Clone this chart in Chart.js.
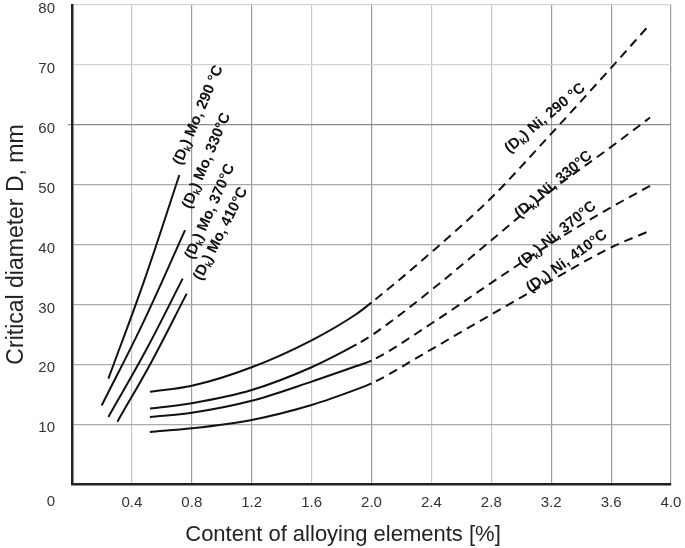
<!DOCTYPE html>
<html>
<head>
<meta charset="utf-8">
<script src="https://cdn.jsdelivr.net/npm/chart.js@4.4.1/dist/chart.umd.min.js"></script>
<style>
  html, body { margin: 0; padding: 0; background: #fff; }
  #wrap { width: 685px; height: 548px; }
</style>
</head>
<body>
<div id="wrap"><canvas id="chart" width="685" height="548"></canvas></div>
<script>
// --- values ---
// axis ticks
const xTickValues = [0, 0.4, 0.8, 1.2, 1.6, 2.0, 2.4, 2.8, 3.2, 3.6, 4.0];
const yTickValues = [0, 10, 20, 30, 40, 50, 60, 70, 80];

// Ni curves: shared alloy content [%], critical diameter [mm]
const niX    = [0.52, 0.8, 1.2, 1.6, 1.9, 2.0, 2.4, 2.8, 3.2, 3.6, 3.86];
const niD290 = [15.4, 16.4, 19.5, 24.0, 28.4, 30.3, 38.7, 47.8, 58.5, 69.5, 76.8];
const niD330 = [12.6, 13.5, 15.7, 19.5, 23.3, 24.8, 32.4, 40.7, 49.0, 56.3, 61.2];
const niD370 = [11.2, 11.9, 13.9, 17.1, 19.7, 20.6, 26.8, 33.6, 40.2, 46.2, 49.8];
const niD410 = [8.7, 9.3, 10.7, 13.2, 15.8, 16.8, 22.5, 28.3, 34.0, 39.5, 42.3];
// past this content the Ni curve is drawn dashed (extrapolated)
const niSolidTo = [2.0, 1.9, 2.0, 2.0];

// Mo curves
const moX290 = [0.243, 0.48, 0.717];
const moD290 = [17.6, 33.8, 51.6];
const moX330 = [0.198, 0.476, 0.755];
const moD330 = [13.1, 27.0, 42.4];
const moX370 = [0.243, 0.491, 0.739];
const moD370 = [11.2, 22.2, 34.3];
const moX410 = [0.303, 0.535, 0.766];
const moD410 = [10.4, 20.6, 31.8];

const temps = ['290 °C', '330°C', '370°C', '410°C'];

// --- styling ---
const FONT = '"Liberation Sans", Arial, sans-serif';
const INK = '#111';

function pts(xs, ys) {
  return xs.map((x, i) => ({ x: x, y: ys[i] }));
}

function curve(data, solidTo) {
  const ds = {
    data: data,
    borderColor: INK,
    borderWidth: 2,
    pointRadius: 0,
    fill: false
  };
  if (solidTo !== undefined) {
    ds.cubicInterpolationMode = 'monotone';
    ds.segment = {
      borderDash: ctx => ctx.p0.parsed.x >= solidTo - 1e-6 ? [9, 6] : undefined,
      borderDashOffset: ctx => ctx.p0.parsed.x >= solidTo - 1e-6 ? 10 : undefined
    };
  } else {
    ds.tension = 0.4;
  }
  return ds;
}

const datasets = [
  curve(pts(moX290, moD290)),
  curve(pts(moX330, moD330)),
  curve(pts(moX370, moD370)),
  curve(pts(moX410, moD410)),
  curve(pts(niX, niD290), niSolidTo[0]),
  curve(pts(niX, niD330), niSolidTo[1]),
  curve(pts(niX, niD370), niSolidTo[2]),
  curve(pts(niX, niD410), niSolidTo[3])
];

// curve labels, placed in data units along each curve
const curveLabels = [
  { metal: 'Mo', temp: temps[0], x: 0.843, y: 61.6, angle: -67 },
  { metal: 'Mo', temp: temps[1], x: 0.899, y: 54.0, angle: -67 },
  { metal: 'Mo', temp: temps[2], x: 0.922, y: 45.5, angle: -66 },
  { metal: 'Mo', temp: temps[3], x: 0.994, y: 41.8, angle: -63 },
  { metal: 'Ni', temp: temps[0], x: 3.159, y: 61.1, angle: -40 },
  { metal: 'Ni', temp: temps[1], x: 3.215, y: 50.0, angle: -40 },
  { metal: 'Ni', temp: temps[2], x: 3.239, y: 41.7, angle: -39 },
  { metal: 'Ni', temp: temps[3], x: 3.304, y: 37.2, angle: -36 }
];

function drawCurveLabel(ctx, lbl, px, py) {
  const main = 'bold 15px ' + FONT;
  const sub = 'bold 10px ' + FONT;
  const a = '(D', b = 'k', c = ') ' + lbl.metal + ', ' + lbl.temp;
  ctx.font = main;
  const wa = ctx.measureText(a).width;
  const wc = ctx.measureText(c).width;
  ctx.font = sub;
  const wb = ctx.measureText(b).width;
  const total = wa + wb + wc;

  ctx.save();
  ctx.translate(px, py);
  ctx.rotate(lbl.angle * Math.PI / 180);
  ctx.textAlign = 'left';
  ctx.textBaseline = 'middle';
  ctx.fillStyle = INK;
  let x = -total / 2;
  ctx.font = main; ctx.fillText(a, x, 0); x += wa;
  ctx.font = sub;  ctx.fillText(b, x, 4); x += wb;
  ctx.font = main; ctx.fillText(c, x, 0);
  ctx.restore();
}

const labelPlugin = {
  id: 'curveLabels',
  afterDatasetsDraw(chart) {
    const ctx = chart.ctx;
    const xs = chart.scales.x, ys = chart.scales.y;
    curveLabels.forEach(l => {
      drawCurveLabel(ctx, l, xs.getPixelForValue(l.x), ys.getPixelForValue(l.y));
    });
    ctx.save();
    // shared origin label, below-left of the corner
    ctx.font = '15px ' + FONT;
    ctx.fillStyle = '#333';
    ctx.textAlign = 'right';
    ctx.textBaseline = 'middle';
    ctx.fillText('0', xs.left - 17, ys.bottom + 18);
    // x axis title, sits a bit left of the plot centre in the original
    ctx.font = '22px ' + FONT;
    ctx.fillStyle = '#222';
    ctx.textAlign = 'center';
    ctx.fillText('Content of alloying elements [%]', xs.left + 271, ys.bottom + 51);
    ctx.restore();
  }
};

function gridColorY(ctx) {
  const v = ctx.tick && ctx.tick.value;
  if (v === 60) return '#8a8a8a';
  if (v === 80 || v === 70) return '#d4d4d4';
  return '#aaaaaa';
}

function gridColorX(ctx) {
  const v = ctx.tick && Math.round(ctx.tick.value * 10) / 10;
  if (v === 0.4 || v === 1.6 || v === 2.4 || v === 2.8) return '#c8c8c8';
  return '#9a9a9a';
}

new Chart(document.getElementById('chart'), {
  type: 'line',
  data: { datasets: datasets },
  plugins: [labelPlugin],
  options: {
    responsive: false,
    animation: false,
    layout: { padding: { top: 5, right: 14, left: 0, bottom: 0 } },
    plugins: {
      legend: { display: false },
      tooltip: { enabled: false }
    },
    scales: {
      x: {
        type: 'linear',
        min: 0,
        max: 4.0,
        afterBuildTicks: s => { s.ticks = xTickValues.map(v => ({ value: v })); },
        afterFit: s => { s.height = 64; s.paddingLeft = 0; s.paddingRight = 0; },
        ticks: {
          padding: 10,
          color: '#333',
          font: { family: FONT, size: 15 },
          maxRotation: 0,
          callback: v => v === 0 ? '' : v.toFixed(1)
        },
        grid: { color: gridColorX, lineWidth: 1.2, drawTicks: false },
        border: { color: '#222', width: 2.5 }
      },
      y: {
        type: 'linear',
        min: 0,
        max: 80,
        afterBuildTicks: s => { s.ticks = yTickValues.map(v => ({ value: v })); },
        afterFit: s => { s.width = 72; s.paddingTop = 0; s.paddingBottom = 0; },
        ticks: {
          padding: 13,
          labelOffset: 4,
          color: '#333',
          font: { family: FONT, size: 15 },
          callback: v => v === 0 ? '' : String(v)
        },
        grid: {
          color: gridColorY,
          lineWidth: 1.2,
          tickLength: 4,
          tickColor: c => (c.tick && c.tick.value === 60) ? '#8a8a8a' : 'rgba(0,0,0,0)'
        },
        border: { color: '#222', width: 2.5 },
        title: {
          display: true,
          text: 'Critical diameter D, mm',
          color: '#222',
          font: { family: FONT, size: 23 },
          padding: { top: 3, bottom: 0 }
        }
      }
    }
  }
});
</script>
</body>
</html>
